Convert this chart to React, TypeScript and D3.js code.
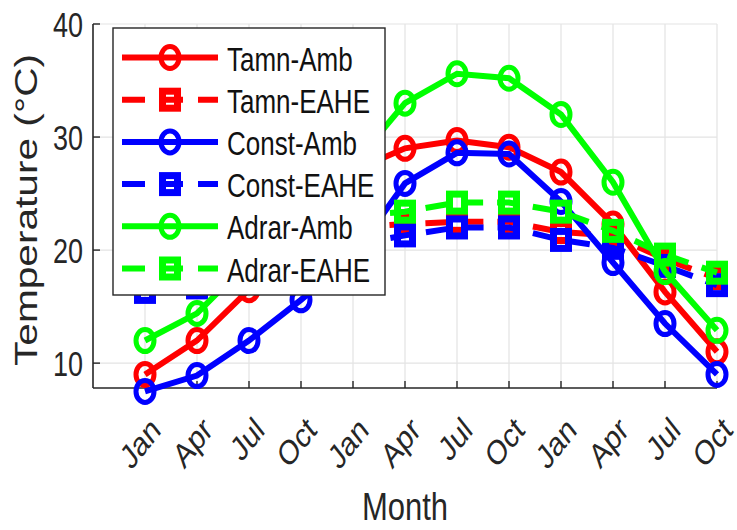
import React from "react";
import * as d3 from "d3";

const months = ["Jan", "Apr", "Jul", "Oct", "Jan", "Apr", "Jul", "Oct", "Jan", "Apr", "Jul", "Oct"];
const tamnAmb = [9, 12, 16.5, 22, 27, 29, 29.7, 29.1, 26.9, 22.3, 16.3, 11];
const tamnEAHE = [17.5, 17.8, 19.5, 21, 22, 22.3, 22.5, 22.5, 21.6, 21.3, 19.2, 17.5];
const constAmb = [7.5, 8.9, 12, 15.6, 19.5, 25.9, 28.6, 28.5, 24.3, 18.9, 13.5, 9];
const constEAHE = [16.3, 16.7, 17.8, 19.2, 20.5, 21.3, 22, 22, 20.9, 20.2, 18.6, 16.9];
const adrarAmb = [12, 14.4, 19, 24, 27.5, 33, 35.6, 35.2, 32, 26, 18.1, 12.9];
const adrarEAHE = [18.5, 19, 20.5, 22, 23, 23.4, 24.2, 24.2, 23.4, 21.7, 19.6, 18];
const yTicks = [10, 20, 30, 40];

const seriesNames = ["Tamn-Amb", "Tamn-EAHE", "Const-Amb", "Const-EAHE", "Adrar-Amb", "Adrar-EAHE"];
const seriesValues = [tamnAmb, tamnEAHE, constAmb, constEAHE, adrarAmb, adrarEAHE];
const seriesColors = ["#ff0000", "#ff0000", "#0000ff", "#0000ff", "#00ff00", "#00ff00"];
const seriesDashed = [false, true, false, true, false, true];

const K = 1.27; // vertical stretch of the reference picture
const FONT = "'Liberation Sans', Arial, Helvetica, sans-serif";

const x = d3.scaleLinear().domain([0, 12]).range([93, 717]);
const y = d3.scaleLinear().domain([7.8, 40]).range([388, 24]);

function Marker({ cx, cy, color, dashed }: { cx: number; cy: number; color: string; dashed: boolean }) {
  if (dashed) {
    const w = 15, h = 17;
    return <rect x={cx - w / 2} y={cy - h / 2} width={w} height={h} fill="none" stroke={color} strokeWidth={7} />;
  }
  return <ellipse cx={cx} cy={cy} rx={9} ry={11} fill="none" stroke={color} strokeWidth={5} />;
}

export default function App() {
  const line = d3
    .line<number>()
    .x((_, i) => x(i + 1))
    .y((d) => y(d));

  const legendX = 113, legendY = 28, legendW = 272, legendH = 267;
  const entryY0 = 57.5, entryStep = 42.2;

  return (
    <svg width={737} height={530} style={{ position: "absolute", left: 0, top: 0, background: "#fff" }}>
      {/* grid */}
      {months.map((_, i) => (
        <line key={"gx" + i} x1={x(i + 1)} x2={x(i + 1)} y1={y(40)} y2={y(7.8)} stroke="#e3e3e3" strokeWidth={1.2} />
      ))}
      {yTicks.map((t) => (
        <line key={"gy" + t} x1={x(0)} x2={x(12)} y1={y(t)} y2={y(t)} stroke="#e3e3e3" strokeWidth={1.2} />
      ))}
      {/* axes */}
      <line x1={x(0)} x2={x(0)} y1={y(40)} y2={y(7.8)} stroke="#262626" strokeWidth={1.6} />
      <line x1={x(0)} x2={x(12)} y1={y(7.8)} y2={y(7.8)} stroke="#262626" strokeWidth={1.6} />
      {yTicks.map((t) => (
        <line key={"ty" + t} x1={x(0)} x2={x(0) + 7} y1={y(t)} y2={y(t)} stroke="#262626" strokeWidth={1.4} />
      ))}
      {months.map((_, i) => (
        <line key={"tx" + i} x1={x(i + 1)} x2={x(i + 1)} y1={y(7.8)} y2={y(7.8) - 7} stroke="#262626" strokeWidth={1.4} />
      ))}
      {/* tick labels */}
      {yTicks.map((t) => (
        <text
          key={"ly" + t}
          transform={`translate(${x(0) - 10},${y(t) + 12.5}) scale(1,${K})`}
          textAnchor="end"
          fontFamily={FONT}
          fontSize={27}
          fill="#262626"
        >
          {t}
        </text>
      ))}
      {months.map((m, i) => (
        <text
          key={"lx" + i}
          transform={`translate(${x(i + 1) + 17},${y(7.8) + 44}) scale(1,${K}) rotate(-45)`}
          textAnchor="end"
          fontFamily={FONT}
          fontSize={27}
          fill="#262626"
        >
          {m}
        </text>
      ))}
      <text transform={`translate(405,520) scale(1,${K})`} textAnchor="middle" fontFamily={FONT} fontSize={31} fill="#262626">
        Month
      </text>
      <text
        transform={`translate(37,210) scale(1,${K}) rotate(-90)`}
        textAnchor="middle"
        fontFamily={FONT}
        fontSize={32}
        fill="#262626"
      >
        Temperature (°C)
      </text>
      {/* series */}
      {seriesValues.map((vals, s) => (
        <g key={"s" + s}>
          <path
            d={line(vals) || ""}
            fill="none"
            stroke={seriesColors[s]}
            strokeWidth={6}
            strokeDasharray={seriesDashed[s] ? "22 14" : undefined}
          />
          {vals.map((v, i) => (
            <Marker key={i} cx={x(i + 1)} cy={y(v)} color={seriesColors[s]} dashed={seriesDashed[s]} />
          ))}
        </g>
      ))}
      {/* legend */}
      <rect x={legendX} y={legendY} width={legendW} height={legendH} fill="#fff" stroke="#262626" strokeWidth={1.4} />
      {seriesNames.map((name, s) => {
        const cy = entryY0 + s * entryStep;
        return (
          <g key={"lg" + s}>
            <line
              x1={122}
              x2={218}
              y1={cy}
              y2={cy}
              stroke={seriesColors[s]}
              strokeWidth={6}
              strokeDasharray={seriesDashed[s] ? "23 15" : undefined}
            />
            <Marker cx={170} cy={cy} color={seriesColors[s]} dashed={seriesDashed[s]} />
            <text transform={`translate(227,${cy + 13}) scale(1,1.3)`} fontFamily={FONT} fontSize={26} fill="#111">
              {name}
            </text>
          </g>
        );
      })}
    </svg>
  );
}
